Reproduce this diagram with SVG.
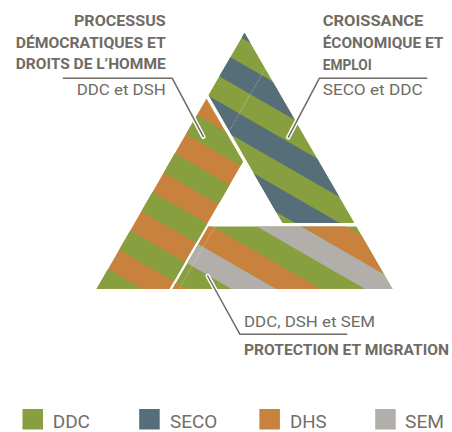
<svg xmlns="http://www.w3.org/2000/svg" width="452" height="432" viewBox="0 0 452 432">
<style>
.g{fill:#879f3e}.b{fill:#566d7a}.o{fill:#c9813e}.s{fill:#b2aea9}
.h{font-family:Roboto,"DejaVu Sans Condensed","Liberation Sans",sans-serif;font-weight:bold;font-size:15.5px;fill:#706b65}
.t{font-family:Roboto,"DejaVu Sans Condensed","Liberation Sans",sans-serif;font-size:14px;fill:#706b65}
.lg{font-family:Roboto,"DejaVu Sans Condensed","Liberation Sans",sans-serif;font-size:19px;fill:#736e68}
.halo{fill:none;stroke:#fff;stroke-width:4.5;stroke-linecap:round;stroke-linejoin:round}
.ln{fill:none;stroke:#6f6a64;stroke-width:1.5;stroke-linecap:round;stroke-linejoin:round}
.seam{fill:none;stroke:#fff;stroke-width:0.6;stroke-dasharray:1 1;opacity:0.7}
</style>
<defs>
<clipPath id="ct"><polygon points="244.5,32.7 208.5,95 282.4,223 354.4,223"/></clipPath>
<clipPath id="cl"><polygon points="206.5,98.5 243,161.7 169.5,289 96.5,289"/></clipPath>
<clipPath id="cb"><polygon points="208.5,226.5 356.4,226.5 392.5,289 172.4,289"/></clipPath>
</defs>
<g id="piece-top" clip-path="url(#ct)">
<rect class="g" x="90" y="20" width="320" height="280"/>
<g transform="rotate(30)">
<rect class="b" x="0" y="-110.25" width="600" height="22.25"/>
<rect class="b" x="0" y="-65.75" width="600" height="22.25"/>
<rect class="b" x="0" y="-21.25" width="600" height="22.25"/>
<rect class="b" x="0" y="23.25" width="600" height="22.25"/>
</g>
<line class="seam" x1="265.5" y1="68" x2="228" y2="133"/>
</g>
<g id="piece-left" clip-path="url(#cl)">
<rect class="o" x="90" y="20" width="320" height="280"/>
<g transform="rotate(30)">
<rect class="g" x="0" y="1" width="600" height="22.25"/>
<rect class="g" x="0" y="45.5" width="600" height="22.25"/>
<rect class="g" x="0" y="90" width="600" height="22.25"/>
<rect class="g" x="0" y="134.5" width="600" height="22.25"/>
<rect class="g" x="0" y="179" width="600" height="23.5"/>
</g>
</g>
<g id="piece-bottom" clip-path="url(#cb)">
<rect class="g" x="90" y="20" width="320" height="280"/>
<g transform="rotate(30)">
<rect class="o" x="0" y="23.25" width="600" height="22.25"/>
<rect class="s" x="0" y="45.5" width="600" height="22.25"/>
<rect class="o" x="0" y="90" width="600" height="22.25"/>
<rect class="s" x="0" y="112.25" width="600" height="22.25"/>
<rect class="o" x="0" y="156.75" width="600" height="22.25"/>
</g>
<line class="seam" x1="215" y1="226.5" x2="179" y2="289"/>
</g>
<g id="connectors">
<polyline class="halo" points="63.3,78.3 172.3,78.3 203.3,136.7"/>
<polyline class="halo" points="426.7,78.3 319.3,78.3 288.3,137.3"/>
<polyline class="halo" points="207.7,276 240,334.3 346.7,334.3"/>
<polyline class="ln" points="63.3,78.3 172.3,78.3 203.3,136.7"/>
<polyline class="ln" points="426.7,78.3 319.3,78.3 288.3,137.3"/>
<polyline class="ln" points="207.7,276 240,334.3 346.7,334.3"/>
</g>
<g id="label-democratie">
<text class="h" x="74" y="26.2" textLength="91.7" lengthAdjust="spacingAndGlyphs">PROCESSUS</text>
<text class="h" x="15.7" y="47.8" textLength="150" lengthAdjust="spacingAndGlyphs">DÉMOCRATIQUES ET</text>
<text class="h" x="15.7" y="69.4" textLength="150" lengthAdjust="spacingAndGlyphs">DROITS DE L’HOMME</text>
<text class="t" x="76.7" y="95" textLength="89" lengthAdjust="spacingAndGlyphs">DDC et DSH</text>
</g>
<g id="label-croissance">
<text class="h" x="322.7" y="26.2" textLength="100.7" lengthAdjust="spacingAndGlyphs">CROISSANCE</text>
<text class="h" x="322.7" y="48" textLength="120.7" lengthAdjust="spacingAndGlyphs">ÉCONOMIQUE ET</text>
<text class="h" x="322.7" y="69.8" textLength="49" lengthAdjust="spacingAndGlyphs">EMPLOI</text>
<text class="t" x="322.7" y="95" textLength="100" lengthAdjust="spacingAndGlyphs">SECO et DDC</text>
</g>
<g id="label-protection">
<text class="t" x="244" y="326.5" textLength="131" lengthAdjust="spacingAndGlyphs">DDC, DSH et SEM</text>
<text class="h" x="244" y="355" textLength="205" lengthAdjust="spacingAndGlyphs">PROTECTION ET MIGRATION</text>
</g>
<g id="legend">
<rect class="g" x="22.5" y="409" width="20.5" height="20.5"/>
<text class="lg" x="52.7" y="428" textLength="37.3" lengthAdjust="spacingAndGlyphs">DDC</text>
<rect class="b" x="139.2" y="409" width="20.5" height="20.5"/>
<text class="lg" x="170" y="428" textLength="47.3" lengthAdjust="spacingAndGlyphs">SECO</text>
<rect class="o" x="259.4" y="409" width="20.5" height="20.5"/>
<text class="lg" x="290" y="428" textLength="36.7" lengthAdjust="spacingAndGlyphs">DHS</text>
<rect class="s" x="375.2" y="409" width="20.5" height="20.5"/>
<text class="lg" x="405" y="428" textLength="39" lengthAdjust="spacingAndGlyphs">SEM</text>
</g>
</svg>
